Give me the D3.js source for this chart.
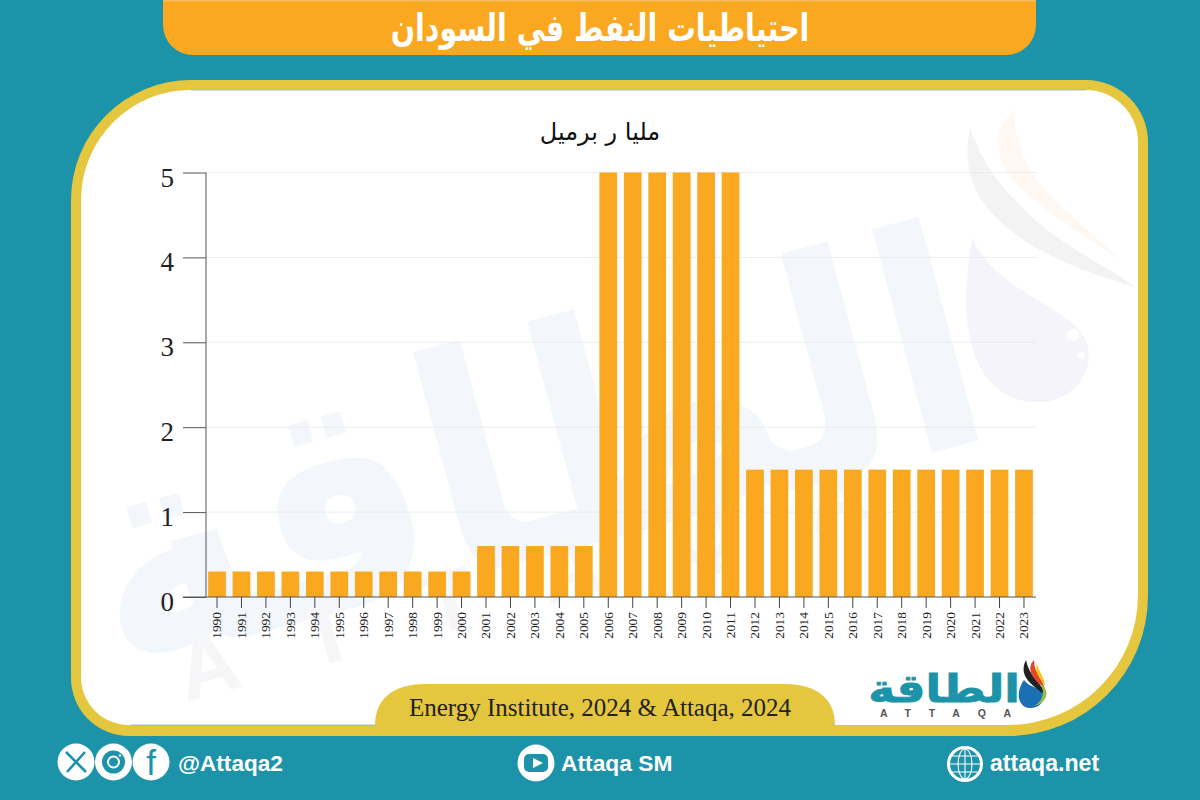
<!DOCTYPE html>
<html lang="ar"><head><meta charset="utf-8">
<script src="https://cdn.jsdelivr.net/npm/d3@7"></script>
<style>html,body{margin:0;padding:0;background:#1c93a8;overflow:hidden}svg{display:block}</style>
</head><body><svg id="c" width="1200" height="800"></svg>
<script>
const years=["1990","1991","1992","1993","1994","1995","1996","1997","1998","1999","2000","2001","2002","2003","2004","2005","2006","2007","2008","2009","2010","2011","2012","2013","2014","2015","2016","2017","2018","2019","2020","2021","2022","2023"];
const reserves=[0.3,0.3,0.3,0.3,0.3,0.3,0.3,0.3,0.3,0.3,0.3,0.6,0.6,0.6,0.6,0.6,5,5,5,5,5,5,1.5,1.5,1.5,1.5,1.5,1.5,1.5,1.5,1.5,1.5,1.5,1.5];
const yTicks=[0,1,2,3,4,5];
const titleText="احتياطيات النفط في السودان";
const unitText="مليا ر برميل";
const sourceText="Energy Institute, 2024 & Attaqa, 2024";
const logoText="الطاقة";

const TEAL="#1c93a8",YEL="#e5c63f",ORG="#f9a81f";
const svg=d3.select("#c");
const AR="'DejaVu Sans','Noto Sans',sans-serif",SERIF="'Liberation Serif',serif",SANS="'Liberation Sans',Arial,sans-serif";
function rr(x,y,w,h,tl,tr,br,bl){return `M${x+tl},${y}H${x+w-tr}A${tr},${tr} 0 0 1 ${x+w},${y+tr}V${y+h-br}A${br},${br} 0 0 1 ${x+w-br},${y+h}H${x+bl}A${bl},${bl} 0 0 1 ${x},${y+h-bl}V${y+tl}A${tl},${tl} 0 0 1 ${x+tl},${y}Z`;}

svg.append("rect").attr("width",1200).attr("height",800).attr("fill",TEAL);
// header
svg.append("path").attr("d",rr(163,0,873,55,0,0,30,30)).attr("fill",ORG);
svg.append("rect").attr("x",163).attr("y",0).attr("width",873).attr("height",1.5).attr("fill","#f6bd5c");
svg.append("text").attr("transform","translate(600,41) scale(0.92,1.22)").attr("text-anchor","middle").attr("direction","rtl")
  .attr("font-family",AR).attr("font-weight",700).attr("font-size",31).attr("fill","#fff").text(titleText);
// frame
svg.append("path").attr("d",rr(71,80,1077,656,120,62,140,58)).attr("fill",YEL);
svg.append("path").attr("d",rr(81,90,1057,635,110,52,130,48)).attr("fill","#fff");
svg.append("path").attr("d","M191,90H1086").attr("stroke","#7fbcc0").attr("stroke-width",.8);
svg.append("path").attr("d","M130,725H376").attr("stroke","#7fbcc0").attr("stroke-width",.8);

// watermark
const wm=svg.append("g").attr("pointer-events","none");
wm.append("text").attr("transform","translate(558,553) rotate(-15) scale(0.95,1.05)").attr("text-anchor","middle")
  .attr("font-family",AR).attr("font-weight",700).attr("font-size",290).attr("fill","#f3f7fb").text(logoText);
wm.append("text").attr("transform","translate(565,600) rotate(-15)").attr("text-anchor","middle")
  .attr("font-family",SANS).attr("font-weight",700).attr("font-size",85).attr("letter-spacing",74).attr("fill","#f6f6f8").text("ATTAQA");
wm.append("path").attr("d","M972,238C958,320 968,385 1020,400C1070,412 1100,370 1085,338C1060,300 1000,295 972,238Z").attr("fill","#f4f4fa");
wm.append("circle").attr("cx",1073).attr("cy",335).attr("r",6).attr("fill","#fff");
wm.append("circle").attr("cx",1081).attr("cy",355).attr("r",3.5).attr("fill","#fff");
wm.append("path").attr("d","M970,128C960,180 980,215 1040,250C1080,272 1115,280 1137,288C1100,262 1050,240 1015,200C990,175 978,150 970,128Z").attr("fill","#f3f3f4");
wm.append("path").attr("d","M1015,110C985,135 995,170 1040,205C1070,228 1100,245 1120,260C1085,225 1040,195 1025,160C1018,140 1012,125 1015,110Z").attr("fill","#fef7f2");

// chart
const x=d3.scaleBand().domain(years).range([204.8,1036.2]).paddingInner(.276).paddingOuter(.138);
const y=d3.scaleLinear().domain([0,5]).range([597,172.5]);
svg.append("g").selectAll("line").data(yTicks.slice(1)).join("line")
  .attr("x1",206).attr("x2",1036).attr("y1",d=>y(d)).attr("y2",d=>y(d)).attr("stroke","#e6e8ea").attr("stroke-width",.8);
svg.append("g").selectAll("rect").data(reserves).join("rect")
  .attr("x",(d,i)=>x(years[i])).attr("width",x.bandwidth()).attr("y",d=>y(d)).attr("height",d=>y(0)-y(d)).attr("fill",ORG);

const gy=svg.append("g").attr("transform","translate(206,0)").call(d3.axisLeft(y).tickValues(yTicks).tickFormat(d3.format("d")).tickSize(23).tickPadding(9));
gy.selectAll("path.domain").attr("d","M0,172.5V597").attr("stroke","#555").attr("stroke-width",1);
gy.selectAll("line").attr("stroke","#555").attr("stroke-width",1);
gy.selectAll("text").attr("font-family",SERIF).attr("font-size",27).attr("fill","#222").attr("dy","0.5em");
const gx=svg.append("g").attr("transform","translate(0,597)").call(d3.axisBottom(x).tickSize(11).tickPadding(4));
gx.selectAll("path.domain").attr("d","M183,0H1036").attr("stroke","#555").attr("stroke-width",1);
gx.selectAll("line").attr("stroke","#444").attr("stroke-width",1);
gx.selectAll("text").attr("font-family",SERIF).attr("font-size",13.4).attr("fill","#222")
  .attr("transform","rotate(-90)").attr("text-anchor","end").attr("x",-15).attr("y",0).attr("dy","0.33em");

svg.append("text").attr("x",600).attr("y",140).attr("text-anchor","middle").attr("direction","rtl")
  .attr("font-family",AR).attr("font-size",24).attr("fill","#111").text(unitText);

// source badge
svg.append("path").attr("d","M375,725C375,700 392,684 425,684H785C818,684 835,700 835,725Z").attr("fill",YEL);
svg.append("text").attr("x",600).attr("y",716).attr("text-anchor","middle").attr("font-family",SERIF).attr("font-size",25).attr("fill","#222").text(sourceText);

// logo
svg.append("text").attr("transform","translate(944,702) scale(1.2,1.02)").attr("text-anchor","middle").attr("font-family",AR).attr("font-weight",700).attr("font-size",38).attr("fill",TEAL).attr("stroke",TEAL).attr("stroke-width",.8).text(logoText);
svg.append("text").attr("x",880).attr("y",717).attr("font-family",SANS).attr("font-weight",700).attr("font-size",10.5).attr("letter-spacing",17.8).attr("fill","#555").text("ATTAQA");
const lg=svg.append("g");
lg.append("path").attr("d","M1024,680C1015,692 1018,708 1030,708C1042,708 1046,698 1042,692C1037,686 1030,688 1024,680Z").attr("fill","#1b6fb3");
lg.append("path").attr("d","M1026,660C1020,672 1026,680 1036,688C1042,693 1045,696 1046,694C1042,684 1030,678 1026,660Z").attr("fill","#222");
lg.append("path").attr("d","M1034,660C1026,668 1032,678 1042,686L1045,690C1044,680 1034,674 1034,660Z").attr("fill","#e8452a");
lg.append("path").attr("d","M1037,664C1034,672 1040,678 1045,686C1045,678 1040,674 1037,664Z").attr("fill","#f6c81e");
lg.append("path").attr("d","M1034,706C1044,704 1048,696 1046,690C1044,686 1042,684 1040,684C1046,692 1042,702 1034,706Z").attr("fill","#8fc04b");

// footer icons
const ic=svg.append("g");
[[76,762],[113.5,762],[151,762]].forEach(c=>ic.append("circle").attr("cx",c[0]).attr("cy",c[1]).attr("r",18.5).attr("fill","#fff"));
ic.append("path").attr("d","M66,752L86,772M85,752L67,772").attr("stroke",TEAL).attr("stroke-width",2.6).attr("fill","none");
ic.append("circle").attr("cx",113.5).attr("cy",762).attr("r",11.5).attr("fill",TEAL);
ic.append("circle").attr("cx",113.5).attr("cy",762).attr("r",5.5).attr("fill","none").attr("stroke","#fff").attr("stroke-width",2);
ic.append("circle").attr("cx",120).attr("cy",755.5).attr("r",1.2).attr("fill","#fff");
ic.append("text").attr("x",151).attr("y",775).attr("text-anchor","middle").attr("font-family",SANS).attr("font-size",35).attr("fill",TEAL).text("f");
const foot=(tx,t,fs)=>svg.append("text").attr("x",tx).attr("y",771).attr("font-family",SANS).attr("font-weight",700).attr("font-size",fs).attr("fill","#fff").text(t);
foot(178,"@Attaqa2",22.6);
ic.append("circle").attr("cx",536).attr("cy",763).attr("r",18.5).attr("fill","#fff");
ic.append("rect").attr("x",524).attr("y",754).attr("width",24).attr("height",18).attr("rx",5).attr("fill",TEAL);
ic.append("path").attr("d","M533,758L543,763L533,768Z").attr("fill","#fff");
foot(561,"Attaqa SM",22.8);
ic.append("circle").attr("cx",965).attr("cy",764).attr("r",18).attr("fill","#fff");
ic.append("circle").attr("cx",965).attr("cy",764).attr("r",15).attr("fill",TEAL);
const globe=ic.append("g").attr("fill","none").attr("stroke","#fff").attr("stroke-width",1.1);
globe.append("ellipse").attr("cx",965).attr("cy",764).attr("rx",7).attr("ry",15);
globe.append("path").attr("d","M965,749V779M950,764H980M952,756H978M952,772H978");
foot(990,"attaqa.net",23.1);
</script></body></html>
